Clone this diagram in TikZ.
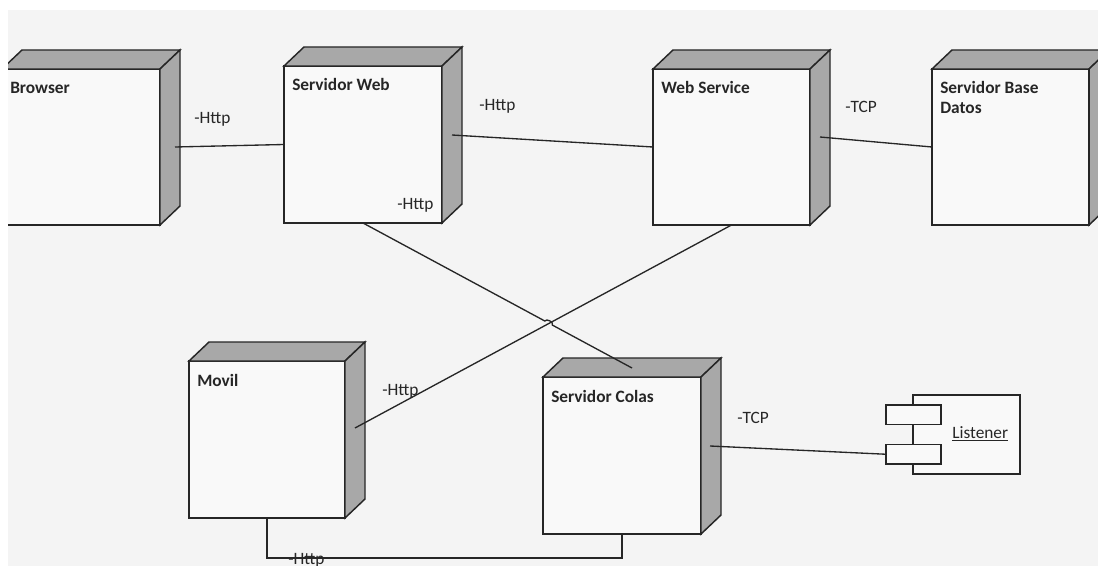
\documentclass[tikz,border=0pt]{standalone}
\usepackage{fontspec}
\setmainfont{Carlito}
\usetikzlibrary{calc}

\definecolor{pagebg}{RGB}{244,244,244}
\definecolor{facefill}{RGB}{249,249,249}
\definecolor{shade}{RGB}{168,168,168}
\definecolor{ink}{RGB}{38,38,38}

\tikzset{
  front/.style={draw=ink, line width=1.1pt, fill=facefill, inner sep=0pt, outer sep=0pt},
  face3d/.style={draw=ink, line width=1.1pt, fill=shade, line join=miter},
  title/.style={font=\bfseries\fontsize{13}{14.6}\selectfont, text=ink, inner sep=0pt},
  lbl/.style={font=\fontsize{13}{14.6}\selectfont, text=ink, inner sep=0pt, anchor=base west},
  wire/.style={draw=ink, line width=1pt},
  compbox/.style={draw=ink, line width=1pt, fill=facefill, inner sep=0pt, outer sep=0pt},
  portbox/.style={draw=ink, line width=1pt, fill=facefill, inner sep=0pt, outer sep=0pt,
    minimum width={55*0.75pt}, minimum height={19.5*0.75pt}, anchor=north west},
}

% UML deployment node: front face, top and right faces, bold title
% #1 name, #2 x, #3 y (top left of the front face), #4 width, #5 height, #6 title
\newcommand\deploynode[6]{%
  \node[front, minimum width={#4*0.75pt}, minimum height={#5*0.75pt}, anchor=north west] (#1) at (#2,#3) {};
  \filldraw[face3d] (#1.north west) -- ++(20,-19) -- ($(#1.north east)+(20,-19)$) -- (#1.north east) -- cycle;
  \filldraw[face3d] (#1.north east) -- ++(20,-19) -- ($(#1.south east)+(20,-19)$) -- (#1.south east) -- cycle;
  \node[title, anchor=base west] (#1-title) at ($(#1.north west)+(8,25)$)
    {\begin{tabular}[t]{@{}l@{}}#6\end{tabular}};
}

\begin{document}
\begin{tikzpicture}[x=0.75pt, y=-0.75pt]
  \useasboundingbox (0,0) rectangle (1098,566);
  \fill[white] (0,0) rectangle (1098,566);
  \fill[pagebg] (8,10) rectangle (1098,566);
  \clip (8,10) rectangle (1098,566);

  % nodes
  \deploynode{browser}{2}{69}{158}{156}{Browser}
  \deploynode{sw}{284}{66}{158}{157}{Servidor Web}
  \deploynode{ws}{653}{69}{157}{156}{Web Service}
  \deploynode{bd}{932}{69}{157}{156}{Servidor Base\\Datos}
  \deploynode{movil}{189}{361}{156}{157}{Movil}
  \deploynode{colas}{543}{377}{158}{157}{Servidor Colas}

  % component with its two ports
  \node[compbox, minimum width={107*0.75pt}, minimum height={79*0.75pt}, anchor=north west] (listener) at (913,395) {};
  \node[portbox] (portA) at (886,405) {};
  \node[portbox] (portB) at (886,444.5) {};
  \node[lbl] (listener-name) at (952,438) {\underline{Listener}};

  % attachment points on the shaded faces
  \coordinate (browserR) at ($(browser.east)+(15,0)$);
  \coordinate (swR) at ($(sw.east)+(10,-9.5)$);
  \coordinate (wsR) at ($(ws.east)+(10,-10)$);
  \coordinate (movilR) at ($(movil.east)+(10,-11.5)$);
  \coordinate (colasR) at ($(colas.east)+(9,-9.5)$);
  \coordinate (colasTop) at ($(colas.north)+(10,-9)$);

  % connectors
  \draw[wire] (browserR) -- (sw.west);
  \draw[wire] (swR) -- (ws.west);
  \draw[wire] (wsR) -- (bd.west);
  \draw[wire] (movilR) -- (ws.south);
  \draw[wire] (sw.south) -- ($(sw.south)!0.676!(colasTop)$)
     to[bend left=90] ($(sw.south)!0.704!(colasTop)$) -- (colasTop);
  \draw[wire] (colasR) -- (portB.west);
  \draw[wire] (movil.south) -- ++(0,40) -| (colas.south);

  % connector labels
  \node[lbl] (l1) at (194,124) {-Http};
  \node[lbl] (l2) at (479,111) {-Http};
  \node[lbl] (l3) at (397,210) {-Http};
  \node[lbl] (l4) at (845,113) {-TCP};
  \node[lbl] (l5) at (382,395) {-Http};
  \node[lbl] (l6) at (737,423) {-TCP};
  \node[lbl] (l7) at (288,564) {-Http};
\end{tikzpicture}
\end{document}
